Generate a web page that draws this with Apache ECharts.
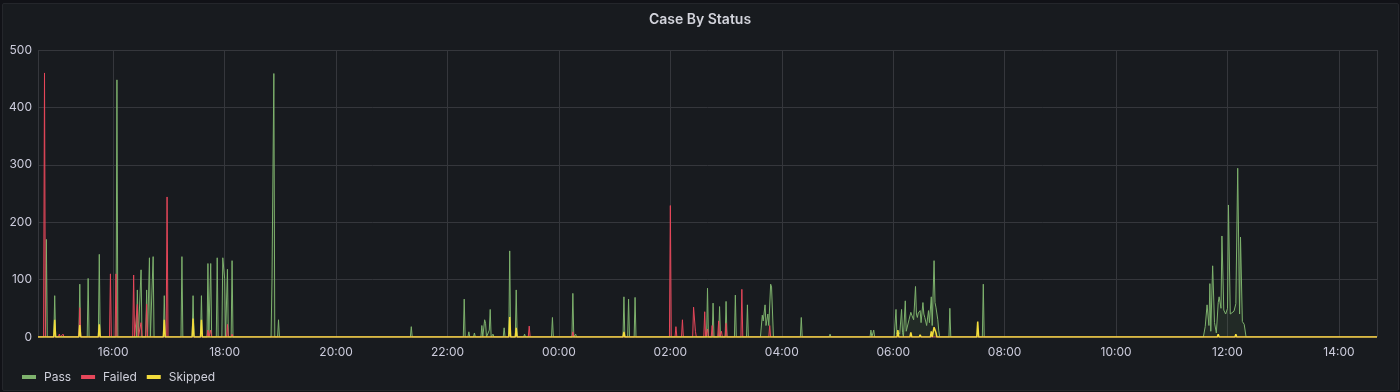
<!DOCTYPE html>
<html>
<head>
<meta charset="utf-8">
<script src="https://cdn.jsdelivr.net/npm/echarts@6/dist/echarts.min.js"></script>
<style>
  html, body { margin: 0; padding: 0; background: #111217; width: 1400px; height: 392px; overflow: hidden; }
  #panel { position: absolute; left: 2px; top: 3px; width: 1397px; height: 388px; background: #181b1f; border: 1px solid #24262b; border-radius: 2px; box-sizing: border-box; }
  #chart { position: absolute; left: 0; top: 0; width: 1400px; height: 392px; }
</style>
</head>
<body>
<div id="panel"></div>
<div id="chart"></div>
<script>
// ---- data (time "HH:MM", value) ----
const rangeStart = "14:39";   // day 1
const rangeEnd = "14:41";     // day 2
const xTickFormat = "HH:mm";
const yTicks = [0, 100, 200, 300, 400, 500];
const seriesNames = ["Pass", "Failed", "Skipped"];

const passPoints = [
  ["14:48",170],["14:57",72],["15:24",92],["15:33",102],["15:45",144],["16:04",448],
  ["16:26",82],["16:30",117],["16:36",82],["16:39",138],["16:43",140],["16:55",72],
  ["17:14",140],["17:26",72],["17:35",72],["17:42",128],["17:45",128],["17:52",138],
  ["17:58",138],["18:00",102],["18:03",118],["18:08",133],["18:51",102],["18:53",459],
  ["18:58",30],["21:21",18],["22:18",66],["22:23",9],["22:29",7],["22:37",20],
  ["22:40",30],["22:41",24],["22:45",12],["22:46",48],["22:49",5],["23:01",16],
  ["23:07",150],["23:14",82],["23:23",5],["23:53",34],["00:15",76],["00:18",5],
  ["01:10",70],["01:15",66],["01:22",69],["02:40",85],["02:46",59],["02:53",53],
  ["03:00",62],["03:10",73],["03:23",56],
  ["03:37",0],["03:39",38],["03:40",28],["03:42",56],["03:43",20],["03:45",40],["03:46",20],
  ["03:48",92],["03:49",87],["03:51",0],
  ["04:21",34],["04:52",5],["05:36",12],["05:39",12],
  ["06:01",0],["06:03",48],["06:04",5],["06:05",10],["06:07",5],["06:09",48],["06:10",8],
  ["06:13",63],["06:14",10],["06:15",12],["06:17",30],["06:19",43],["06:20",38],["06:22",30],
  ["06:24",88],["06:25",40],["06:26",34],["06:27",42],["06:29",46],["06:30",25],["06:32",60],
  ["06:33",40],["06:34",34],["06:36",20],["06:38",46],["06:39",25],["06:41",70],["06:42",20],
  ["06:44",133],["06:45",60],["06:46",52],["06:48",30],["06:49",12],["06:50",0],
  ["07:01",50],["07:37",92],
  ["11:34",0],["11:36",18],["11:38",56],["11:40",20],["11:41",93],["11:42",10],["11:44",124],
  ["11:46",25],["11:48",7],["11:50",60],["11:51",70],["11:53",50],["11:54",176],["11:56",47],
  ["11:58",40],["12:00",50],["12:01",230],["12:03",40],["12:05",37],["12:07",45],["12:09",58],
  ["12:11",294],["12:13",40],["12:14",174],["12:16",27],["12:18",22],["12:20",0]
];

const failedPoints = [
  ["14:46",460],["15:02",5],["15:06",5],["15:24",51],["15:57",110],["16:03",110],
  ["16:22",108],["16:26",57],["16:30",25],["16:36",57],["16:58",244],["17:42",12],
  ["17:45",12],["18:03",22],["18:08",5],["22:07",3],["22:26",3],["23:28",19],
  ["00:15",9],["02:00",229],["02:06",18],["02:13",30],["02:25",52],["02:27",10],
  ["02:37",44],["02:40",14],["02:45",20],["02:52",28],["02:55",10],["03:00",24],
  ["03:17",83],["03:47",20]
];

const skippedPoints = [
  ["14:57",30],["15:24",21],["15:45",22],["16:55",30],["17:26",32],["17:35",30],
  ["18:51",3],["23:07",35],["23:14",16],["01:10",9],["02:40",3],["02:46",3],
  ["02:53",3],["04:21",3],["06:05",12],["06:19",8],["06:29",4],["06:41",10],
  ["06:44",17],["06:46",8],["07:31",27],["11:50",5],["12:00",3],["12:09",5]
];

// ---- build time values for the library ----
const MIN = 60000;
const BASE_Y = 2024, BASE_M = 2, BASE_D = 14;
const startMinutes = 14 * 60 + 39;
function toMs(hhmm, forceNextDay) {
  const [h, m] = hhmm.split(":").map(Number);
  const mins = h * 60 + m;
  const day = (!forceNextDay && mins >= startMinutes) ? BASE_D : BASE_D + 1;
  return new Date(BASE_Y, BASE_M, day, h, m, 0).getTime();
}
const START = toMs(rangeStart);
const END = toMs(rangeEnd, true);

// points not listed are at the zero baseline
function build(points) {
  const arr = points.map(([t, v]) => [toMs(t), v]).sort((a, b) => a[0] - b[0]);
  const out = [[START, 0]];
  for (let i = 0; i < arr.length; i++) {
    const [t, v] = arr[i];
    const prev = i > 0 ? arr[i - 1][0] : -Infinity;
    const next = i < arr.length - 1 ? arr[i + 1][0] : Infinity;
    if (v !== 0 && t - prev > 2 * MIN) out.push([t - MIN, 0]);
    out.push([t, v]);
    if (v !== 0 && next - t > 2 * MIN) out.push([t + MIN, 0]);
  }
  out.push([END, 0]);
  return out;
}

const pad = n => (n < 10 ? "0" : "") + n;
const colors = ["#7eb26d", "#e6475a", "#f2dc3c"];
const widths = [1, 1, 1.5];
const FONT = "Inter, 'Noto Sans', sans-serif";

const chart = echarts.init(document.getElementById("chart"), null, { renderer: "canvas" });
const datasets = [build(passPoints), build(failedPoints), build(skippedPoints)];

chart.setOption({
  animation: false,
  backgroundColor: "transparent",
  title: {
    text: "Case By Status",
    left: "center",
    top: 8,
    textStyle: { color: "#d3d4dc", fontSize: 14, fontWeight: 600, fontFamily: FONT }
  },
  legend: {
    data: seriesNames,
    left: 17,
    bottom: 4,
    icon: "rect",
    itemWidth: 14,
    itemHeight: 4,
    itemGap: 10,
    textStyle: { color: "#d0d1dc", fontSize: 12, fontFamily: FONT, padding: [0, 0, 0, 3] }
  },
  grid: { left: 38, right: 23, top: 50, bottom: 55, containLabel: false },
  xAxis: {
    type: "time",
    min: START,
    max: END,
    splitNumber: 10,
    axisLine: { show: false },
    axisTick: { show: false },
    splitLine: { show: true, lineStyle: { color: "#35373c", width: 1 } },
    axisLabel: {
      color: "#ccccdc",
      fontSize: 12,
      fontFamily: FONT,
      margin: 9,
      formatter: function (v) {
        const d = new Date(v);
        return xTickFormat.replace("HH", pad(d.getHours())).replace("mm", pad(d.getMinutes()));
      }
    }
  },
  yAxis: {
    type: "value",
    min: yTicks[0],
    max: yTicks[yTicks.length - 1],
    interval: yTicks[1] - yTicks[0],
    axisLine: { show: false },
    axisTick: { show: false },
    splitLine: { show: true, lineStyle: { color: "#35373c", width: 1 } },
    axisLabel: { color: "#ccccdc", fontSize: 12, fontFamily: FONT, margin: 6 }
  },
  series: seriesNames.map((name, i) => ({
    name: name,
    type: "line",
    data: datasets[i],
    showSymbol: false,
    symbol: "none",
    color: colors[i],
    lineStyle: { width: widths[i], color: colors[i] },
    areaStyle: { color: colors[i], opacity: 0.1 },
    z: 2 + i
  }))
});
</script>
</body>
</html>
